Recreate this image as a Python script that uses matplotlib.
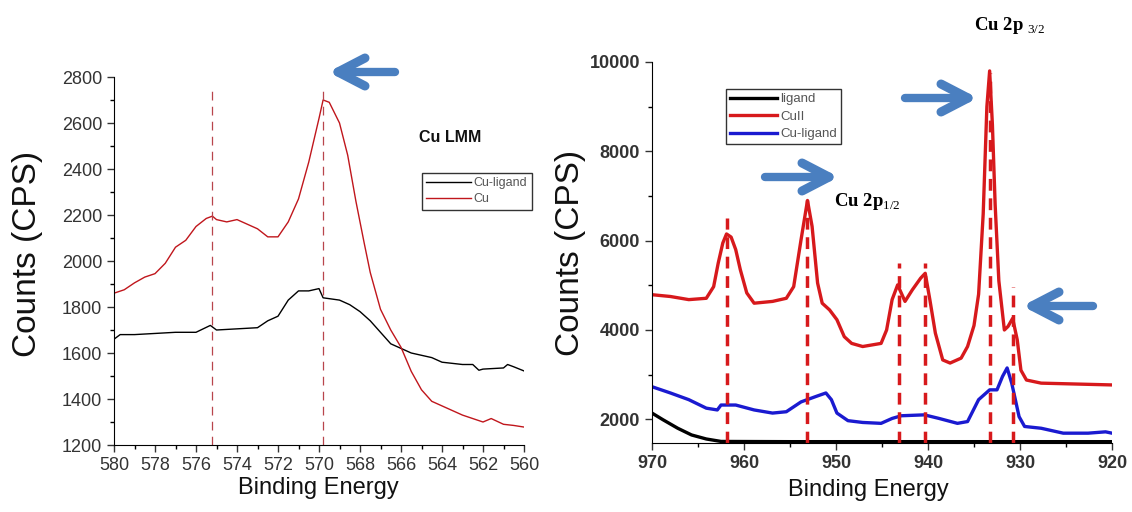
import numpy as np
import matplotlib.pyplot as plt
from matplotlib.lines import Line2D
from matplotlib.ticker import MultipleLocator

plt.rcParams['font.family'] = ['Liberation Sans', 'DejaVu Sans']
plt.rcParams['mathtext.fontset'] = 'custom'
plt.rcParams['mathtext.rm'] = 'Liberation Serif'

# ---- left panel: Cu LMM ----
lmm_cu_x = [580, 579.5, 579, 578.5, 578, 577.5, 577, 576.5, 576, 575.5, 575.2, 575, 574.5, 574,
            573.5, 573, 572.5, 572, 571.5, 571, 570.5, 570, 569.8, 569.5, 569, 568.6, 568.2,
            567.8, 567.5, 567, 566.5, 566, 565.5, 565, 564.5, 564, 563.5, 563, 562.5, 562,
            561.6, 561, 560.5, 560]
lmm_cu_y = [1860, 1875, 1905, 1930, 1945, 1990, 2060, 2090, 2150, 2185, 2195, 2180, 2170, 2180,
            2160, 2140, 2105, 2105, 2170, 2270, 2430, 2620, 2700, 2690, 2600, 2460, 2260,
            2080, 1950, 1790, 1700, 1625, 1520, 1440, 1390, 1370, 1350, 1330, 1315, 1300,
            1315, 1290, 1285, 1278]

lmm_lig_x = [580, 579.7, 579, 578, 577, 576, 575.3, 575, 574, 573, 572.5, 572, 571.5, 571,
             570.5, 570, 569.8, 569, 568.5, 568, 567.5, 567, 566.5, 566, 565.5, 565, 564.5,
             564, 563, 562.5, 562.2, 562, 561, 560.8, 560.5, 560]
lmm_lig_y = [1660, 1680, 1680, 1685, 1690, 1690, 1720, 1700, 1705, 1710, 1740, 1760, 1830, 1870,
             1870, 1880, 1840, 1830, 1810, 1780, 1740, 1690, 1640, 1620, 1600, 1590, 1580,
             1560, 1550, 1550, 1525, 1530, 1535, 1550, 1540, 1522]

lmm_marks = [575.2, 569.8]

# ---- right panel: Cu 2p ----
p_x = [970, 968, 966, 964.1, 963.3, 962.8, 962.3, 961.9, 961.4, 960.9, 960.4, 959.7, 958.9,
       956.9, 955.4, 954.6, 953.8, 953.1, 952.6, 952.0, 951.5, 950.7, 949.9, 949.1, 948.3,
       947.1, 945.1, 944.5, 943.9, 943.3, 942.5, 941.7, 940.8, 940.3, 939.8, 939.2, 938.4,
       937.6, 936.4, 935.7, 935.0, 934.5, 934.0, 933.6, 933.3, 933.0, 932.7, 932.3, 931.7,
       931.3, 930.8, 930.3, 929.9, 929.3, 927.7, 920]
cuii_y = [4790, 4750, 4680, 4710, 4970, 5500, 5950, 6150, 6080, 5800, 5350, 4830, 4600,
          4640, 4710, 4970, 6020, 6900, 6320, 5050, 4600, 4450, 4230, 3850, 3700,
          3630, 3700, 4000, 4680, 5010, 4640, 4900, 5160, 5270, 4680, 3930, 3330,
          3260, 3370, 3630, 4100, 4800, 6600, 9000, 9800, 8600, 6800, 5100, 4000,
          4080, 4260, 3780, 3100, 2880, 2810, 2770]

b_x = [970, 968, 966, 964.1, 962.9, 962.5, 960.9, 958.9, 956.9, 955.4, 953.8, 952.2, 951.1,
       950.5, 949.9, 948.7, 947.1, 945.1, 943.9, 942.9, 940.4, 938.8, 936.8, 935.7, 934.5,
       933.3, 932.5, 931.9, 931.4, 930.9, 930.1, 929.5, 927.7, 925.3, 922.6, 920.7, 920]
culig_y = [2730, 2590, 2440, 2250, 2210, 2320, 2320, 2210, 2140, 2170, 2390, 2510, 2590,
           2440, 2140, 1970, 1930, 1910, 2020, 2080, 2100, 2020, 1910, 1950, 2440,
           2660, 2660, 2960, 3150, 2810, 2060, 1840, 1800, 1690, 1690, 1720, 1690]

k_x = [970, 968.8, 967.2, 965.7, 964.1, 962.5, 955, 945, 935, 925, 920]
lig_y = [2140, 1990, 1800, 1650, 1560, 1505, 1500, 1500, 1500, 1500, 1500]

p_marks = [961.8, 953.1, 943.2, 940.3, 933.3, 930.8]
p_mark_top = [6500, 6900, 5500, 5500, 9750, 4970]

W, H = 1132, 512
fig = plt.figure(figsize=(W / 100, H / 100), dpi=100)


def px_box(x0, y0, x1, y1):
    return [x0 / W, 1 - y1 / H, (x1 - x0) / W, (y1 - y0) / H]


def arrow(x_tail, x_tip, y, color='#4a7fc0'):
    # thick blue arrow with a chevron head, pixel coords (y from top)
    d = 1 if x_tip > x_tail else -1
    yy = 1 - y / H
    kw = dict(transform=fig.transFigure, color=color, solid_capstyle='round')
    fig.add_artist(Line2D([x_tail / W, (x_tip - 4 * d) / W], [yy, yy], lw=6, **kw))
    for s in (1, -1):
        fig.add_artist(Line2D([(x_tip - 27 * d) / W, x_tip / W],
                              [1 - (y + 14 * s) / H, yy], lw=6.5, **kw))


tick_grey = '#333333'

# left axes
ax1 = fig.add_axes(px_box(114, 77, 524, 445))
ax1.plot(lmm_lig_x, lmm_lig_y, color='black', lw=1, label='Cu-ligand')
ax1.plot(lmm_cu_x, lmm_cu_y, color='#c0161c', lw=1, label='Cu')
for m in lmm_marks:
    ax1.plot([m, m], [1200, 2740], color='#b8454c', lw=0.9, dashes=(7, 5))
ax1.set_xlim(580, 560)
ax1.set_ylim(1200, 2800)
ax1.xaxis.set_major_locator(MultipleLocator(2))
ax1.xaxis.set_minor_locator(MultipleLocator(1))
ax1.yaxis.set_major_locator(MultipleLocator(200))
ax1.yaxis.set_minor_locator(MultipleLocator(100))
ax1.tick_params(labelsize=13, colors=tick_grey, length=5, width=1)
ax1.tick_params(which='minor', length=3, width=1)
ax1.set_ylabel('Counts (CPS)', fontsize=24, color='#111111')
ax1.yaxis.set_label_coords(-0.212, 0.52)
ax1.set_xlabel('Binding Energy', fontsize=17, color='#111111')
ax1.xaxis.set_label_coords(0.4976, -0.117)
ax1.xaxis.label.set_va('center')
ax1.yaxis.label.set_va('center')
leg1 = ax1.legend(loc='upper left', bbox_to_anchor=(422 / W, 1 - 173 / H),
                  bbox_transform=fig.transFigure, fontsize=9, frameon=True,
                  fancybox=False, edgecolor='black', handlelength=3.6,
                  handletextpad=0.2, labelspacing=0.3, borderpad=0.35, borderaxespad=0)
leg1.get_frame().set_linewidth(1)
for t in leg1.get_texts():
    t.set_color('#555555')
fig.text(450 / W, 1 - 138 / H, 'Cu LMM', fontsize=11.5, fontweight='bold', ha='center',
         va='center', color='#111111')

# right axes
ax2 = fig.add_axes(px_box(652, 62, 1112, 443))
ax2.plot(k_x, lig_y, color='black', lw=2.4, label='ligand')
ax2.plot(p_x, cuii_y, color='#d7191c', lw=2.4, label='CuII')
ax2.plot(b_x, culig_y, color='#1a1ad0', lw=2.4, label='Cu-ligand')
for m, top in zip(p_marks, p_mark_top):
    ax2.plot([m, m], [1470, top], color='#d7191c', lw=2.5, dashes=(3.4, 2.2))
ax2.set_xlim(970, 920)
ax2.set_ylim(1470, 10000)
ax2.xaxis.set_major_locator(MultipleLocator(10))
ax2.xaxis.set_minor_locator(MultipleLocator(5))
ax2.yaxis.set_major_locator(MultipleLocator(2000))
ax2.yaxis.set_minor_locator(MultipleLocator(1000))
ax2.tick_params(labelsize=13, colors=tick_grey, length=5, width=1)
ax2.tick_params(which='minor', length=3, width=1)
for lab in ax2.get_xticklabels() + ax2.get_yticklabels():
    lab.set_fontweight('bold')
ax2.set_ylabel('Counts (CPS)', fontsize=24, color='#111111')
ax2.yaxis.set_label_coords(-0.178, 0.5)
ax2.set_xlabel('Binding Energy', fontsize=17, color='#111111')
ax2.xaxis.set_label_coords(0.470, -0.124)
ax2.xaxis.label.set_va('center')
ax2.yaxis.label.set_va('center')
leg2 = ax2.legend(loc='upper left', bbox_to_anchor=(726 / W, 1 - 89 / H),
                  bbox_transform=fig.transFigure, fontsize=9.5, frameon=True,
                  fancybox=False, edgecolor='black', handlelength=3.6,
                  handletextpad=0.2, labelspacing=0.4, borderpad=0.3, borderaxespad=0)
leg2.get_frame().set_linewidth(1)
for t in leg2.get_texts():
    t.set_color('#555555')

fig.text(834 / W, 1 - 202 / H, r'Cu 2p$_{\mathrm{1/2}}$', fontsize=13.5, fontweight='bold',
         ha='left', va='center', family='Liberation Serif')
fig.text(974 / W, 1 - 26 / H, r'Cu 2p $_{\mathrm{3/2}}$', fontsize=13.5, fontweight='bold',
         ha='left', va='center', family='Liberation Serif')

for a in (ax1, ax2):
    a.spines['top'].set_visible(False)
    a.spines['right'].set_visible(False)

arrow(395, 338, 72)
arrow(765, 829, 177)
arrow(905, 968, 98)
arrow(1093, 1032, 306)

fig.savefig('out.png', dpi=100)
